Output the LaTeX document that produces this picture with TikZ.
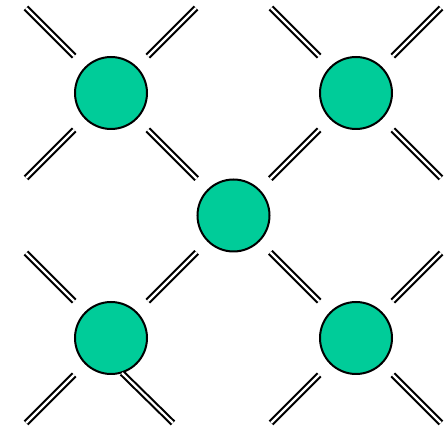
\documentclass[tikz,border=0pt]{standalone}
\usepackage{tikz}
\usetikzlibrary{positioning, calc}
\definecolor{SiteGreen}{RGB}{0,204,153}

\begin{document}
\begin{tikzpicture}[x=1pt, y=1pt,
          site/.style={circle, draw=black, line width=2pt, fill=SiteGreen,
                       minimum size=72pt, inner sep=0pt, outer sep=0pt},
          bond/.style={double, double distance=2.2pt, line width=2.1pt},
          stub/.style={bond, shorten <=16pt},
          link/.style={bond, shorten <=16pt, shorten >=16pt}
        ]
        \useasboundingbox (0,0) rectangle (448,431);

        % Sites
        \node[site] (tl) at (111,  338) {};
        \node[site] (tr) at (356,  338) {};
        \node[site] (c)  at (233.5,215.5) {};
        \node[site] (bl) at (111,   93) {};
        \node[site] (br) at (356,   93) {};

        % Free ends of the outer bonds
        \coordinate (tl-nw) at (26, 423);
        \coordinate (tl-ne) at (196,423);
        \coordinate (tl-sw) at (26, 253);
        \coordinate (tr-nw) at (271,423);
        \coordinate (tr-ne) at (441,423);
        \coordinate (tr-se) at (441,253);
        \coordinate (bl-nw) at (26, 178);
        \coordinate (bl-sw) at (26,   8);
        \coordinate (bl-a)  at (122, 58);
        \coordinate (bl-b)  at (173,  8);
        \coordinate (br-ne) at (441,178);
        \coordinate (br-sw) at (271,  8);
        \coordinate (br-se) at (441,  8);

        % Bonds between sites
        \draw[link] (tl) -- (c);
        \draw[link] (tr) -- (c);
        \draw[link] (bl) -- (c);
        \draw[link] (br) -- (c);

        % Outer bonds
        \draw[stub] (tl) -- (tl-nw);
        \draw[stub] (tl) -- (tl-ne);
        \draw[stub] (tl) -- (tl-sw);
        \draw[stub] (tr) -- (tr-nw);
        \draw[stub] (tr) -- (tr-ne);
        \draw[stub] (tr) -- (tr-se);
        \draw[stub] (bl) -- (bl-nw);
        \draw[stub] (bl) -- (bl-sw);
        \draw[bond] (bl-a) -- (bl-b);
        \draw[stub] (br) -- (br-ne);
        \draw[stub] (br) -- (br-sw);
        \draw[stub] (br) -- (br-se);
\end{tikzpicture}
\end{document}
